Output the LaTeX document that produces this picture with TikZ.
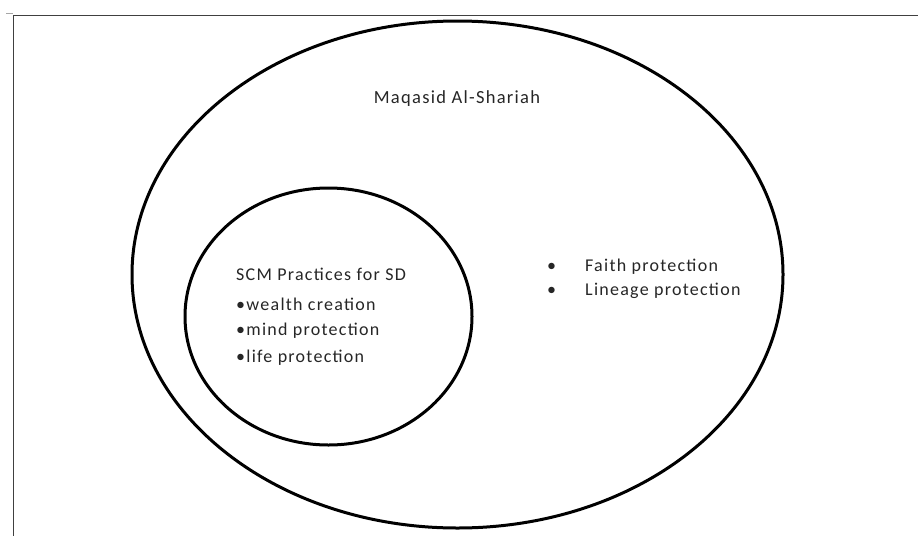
\documentclass[tikz,border=0pt]{standalone}
\usepackage{fontspec}
\setmainfont[LetterSpace=7]{Carlito}
\usetikzlibrary{shapes.geometric}
\begin{document}
\begin{tikzpicture}[x=1pt,y=-1pt,
  ring/.style={ellipse,draw,line width=3pt,inner sep=0pt},
  lbl/.style={anchor=base west,inner sep=0pt,font=\fontsize{18}{20}\selectfont,text=black!85},
  frame/.style={draw=black!75,line width=1.8pt}]
\useasboundingbox (0,0) rectangle (918,536);
\coordinate (tl) at (13.5,15.5);
\coordinate (tr) at (918,15.5);
\coordinate (bl) at (13.5,536);
\coordinate (tk) at (6,13);
\coordinate (tk2) at (13,13);
\draw[frame] (tr) -- (tl) -- (bl);
\draw[black!35,line width=1pt] (tk) -- (tk2);
\node[ring,minimum width=651pt,minimum height=507pt] (outer) at (457.5,274.5) {};
\node[ring,minimum width=287pt,minimum height=257pt] (inner) at (328.5,316.5) {};
\node[lbl,anchor=base,font=\fontsize{18.5}{20}\selectfont] (title) at (457,103) {Maqasid Al-Shariah};
\node[lbl] (scm) at (236,280) {SCM Practices for SD};
\node[lbl] (w) at (236,310) {\textbullet wealth creation};
\node[lbl] (m) at (236,335) {\textbullet mind protection};
\node[lbl] (l) at (236,362) {\textbullet life protection};
\node[lbl] (b1) at (547,271) {\textbullet};
\node[lbl] (f) at (585,271) {Faith protection};
\node[lbl] (b2) at (547,295) {\textbullet};
\node[lbl] (g) at (585,295) {Lineage protection};
\end{tikzpicture}
\end{document}
